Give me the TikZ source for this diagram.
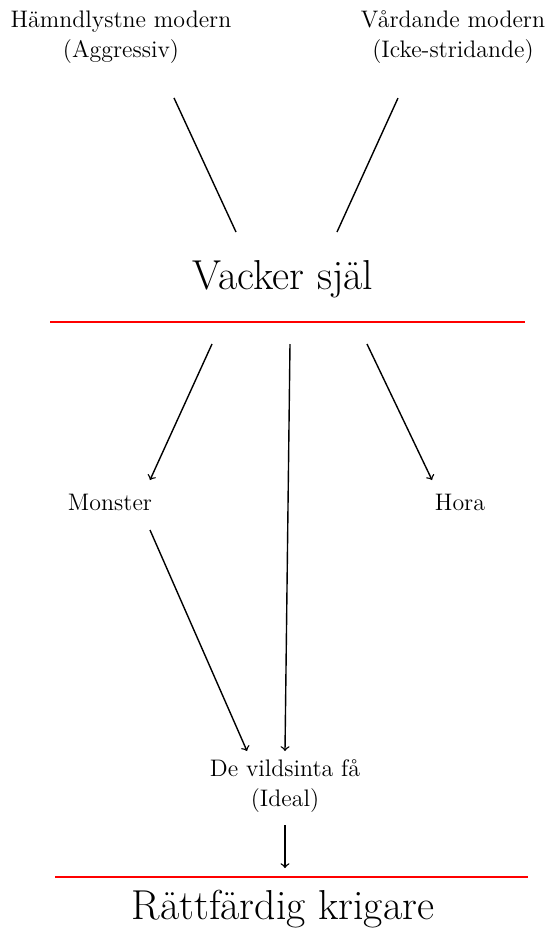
\documentclass[tikz,border=0pt]{standalone}
\usepackage{tikz}
\usepackage{xcolor}
\usetikzlibrary{arrows,positioning}

\begin{document}
\begin{tikzpicture}[x=0.5bp, y=-0.5bp, line width=0.7pt,
    small/.style={font=\fontsize{12}{15}\selectfont, align=center, inner sep=0pt},
    big/.style={font=\fontsize{21}{24}\selectfont, inner sep=0pt},
    divider/.style={red, line width=0.6pt}]
        \useasboundingbox (0,0) rectangle (552,928);

        % Mothers
        \node [small] (vengeful) at (121,37) {H\"amndlystne modern\\(Aggressiv)};
        \node [small] (caring) at (453,37) {V\aa rdande modern\\(Icke-stridande)};

        % Beautiful soul
        \node [big] (soul) at (283,279) {Vacker sj\"al};
        \coordinate (soul-top-l) at (236,232);
        \coordinate (soul-top-r) at (337,232);
        \draw ([xshift=26.5bp, yshift=-17bp]vengeful.south) -- (soul-top-l);
        \draw ([xshift=-27.5bp, yshift=-17bp]caring.south) -- (soul-top-r);
        \draw [divider] (50,322) -- (525,322);

        % Outcomes
        \node [small] (monster) at (110,502) {Monster};
        \node [small] (whore) at (460,502) {Hora};
        \node [small] (few) at (285,786) {De vildsinta f\aa\\(Ideal)};
        \coordinate (soul-l) at (212,344);
        \coordinate (soul-m) at (290,344);
        \coordinate (soul-r) at (367,344);
        \draw [->] (soul-l) -- (150,480);
        \draw [->] (soul-m) -- (285,751);
        \draw [->] (soul-r) -- (432,480);
        \draw [->] (150,530) -- (247,751);

        % Righteous warrior
        \draw [->] (few.south) ++(0,-6bp) -- ++(0,-21.5bp);
        \draw [divider] (55,877) -- (528,877);
        \node [big] (warrior) at (283,909) {R\"attf\"ardig krigare};
    \end{tikzpicture}
\end{document}
